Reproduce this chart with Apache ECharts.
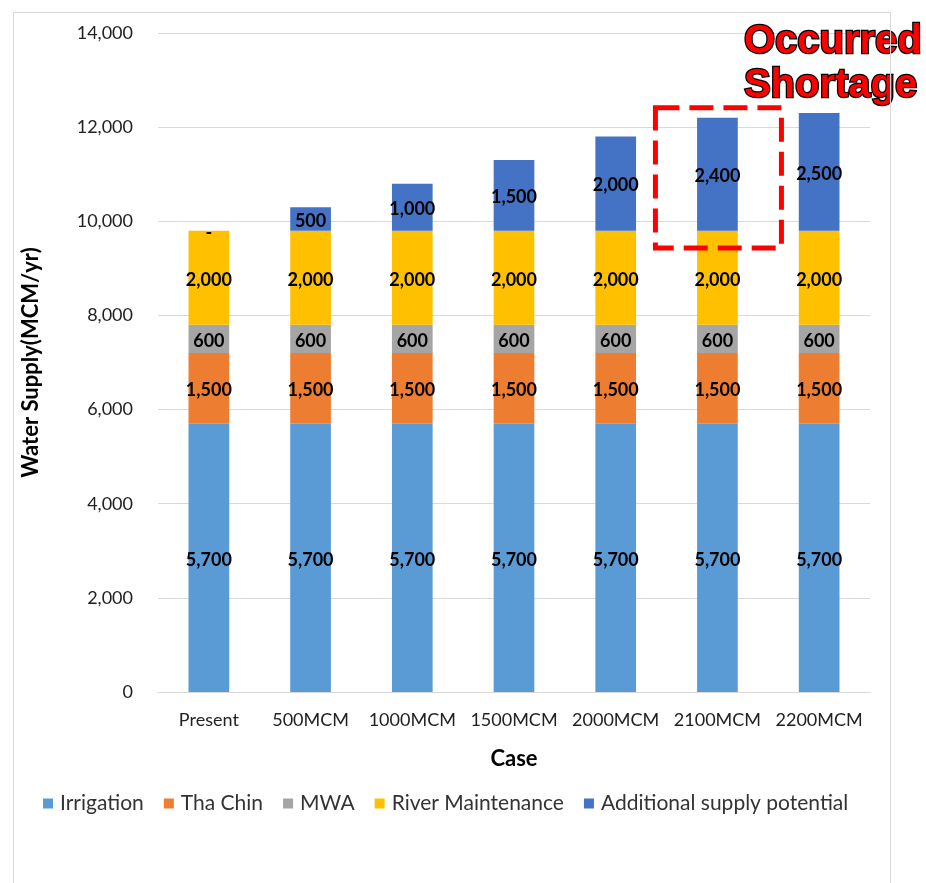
<!DOCTYPE html>
<html>
<head>
<meta charset="utf-8">
<style>
  html, body { margin: 0; padding: 0; background: #fff; }
  #chart { width: 926px; height: 883px; }
  #frame { position: absolute; left: 13px; top: 12px; width: 876px; height: 900px; border: 1.5px solid #d9d9d9; pointer-events: none; }
</style>
<script src="https://cdn.jsdelivr.net/npm/echarts@6/dist/echarts.min.js"></script>
</head>
<body>
<div id="chart"></div>
<div id="frame"></div>
<script>
// Scenario cases on the x axis
const cases = ['Present', '500MCM', '1000MCM', '1500MCM', '2000MCM', '2100MCM', '2200MCM'];

// Water supply by use (MCM/yr), stacked per case
const irrigation = [5700, 5700, 5700, 5700, 5700, 5700, 5700];
const thaChin = [1500, 1500, 1500, 1500, 1500, 1500, 1500];
const mwa = [600, 600, 600, 600, 600, 600, 600];
const riverMaintenance = [2000, 2000, 2000, 2000, 2000, 2000, 2000];
const additional = [0, 500, 1000, 1500, 2000, 2400, 2500];

const seriesNames = ['Irrigation', 'Tha Chin', 'MWA', 'River Maintenance', 'Additional supply potential'];
const seriesData = [irrigation, thaChin, mwa, riverMaintenance, additional];
const seriesColors = ['#5B9BD5', '#ED7D31', '#A5A5A5', '#FFC000', '#4472C4'];

// Highlighted case and the value span of the dashed box around it
const shortageCase = '2100MCM';
const shortageSpan = [9430, 12410];

const FONT = 'Lato';

const chart = echarts.init(document.getElementById('chart'));

function fmt(v) {
  return v === 0 ? '-' : v.toLocaleString('en-US');
}

const option = {
  animation: false,
  backgroundColor: '#fff',
  grid: { left: 158, right: 56, top: 33, bottom: 191, containLabel: false },
  legend: {
    data: seriesNames,
    left: 38,
    top: 788,
    icon: 'rect',
    itemWidth: 10,
    itemHeight: 10,
    itemGap: 20,
    textStyle: { fontFamily: FONT, fontSize: 21, color: '#333', padding: [0, 0, 0, 2] }
  },
  xAxis: {
    type: 'category',
    data: cases,
    name: 'Case',
    nameLocation: 'middle',
    nameGap: 56,
    nameTextStyle: { fontFamily: FONT, fontSize: 22, fontWeight: 'bold', color: '#000' },
    axisLine: { lineStyle: { color: '#d9d9d9', width: 1 } },
    axisTick: { show: false },
    axisLabel: { interval: 0, fontFamily: FONT, fontSize: 18, color: '#222', margin: 19 }
  },
  yAxis: {
    type: 'value',
    min: 0,
    max: 14000,
    interval: 2000,
    name: 'Water Supply(MCM/yr)',
    nameLocation: 'middle',
    nameGap: 116,
    nameTextStyle: { fontFamily: FONT, fontSize: 22, fontWeight: 'bold', color: '#000' },
    axisLine: { show: false },
    axisTick: { show: false },
    axisLabel: {
      fontFamily: FONT, fontSize: 18, color: '#222', margin: 25,
      formatter: v => v.toLocaleString('en-US')
    },
    splitLine: { lineStyle: { color: '#d9d9d9', width: 1 } }
  },
  series: seriesNames.map((name, i) => ({
    name: name,
    type: 'bar',
    stack: 'supply',
    barWidth: '40%',
    data: seriesData[i],
    itemStyle: { color: seriesColors[i] },
    label: {
      show: true,
      position: 'inside',
      offset: [0, 2],
      formatter: p => fmt(p.value),
      fontFamily: FONT,
      fontSize: 18,
      fontWeight: 'bold',
      color: '#000'
    }
  }))
};

chart.setOption(option);

// Dashed box around the shortage case plus its caption
const boxTop = chart.convertToPixel({ gridIndex: 0 }, [shortageCase, shortageSpan[1]]);
const boxBottom = chart.convertToPixel({ gridIndex: 0 }, [shortageCase, shortageSpan[0]]);
const halfW = 63;

chart.setOption({
  graphic: [
    {
      type: 'rect',
      shape: { x: boxTop[0] - halfW + 1, y: boxTop[1], width: halfW * 2, height: boxBottom[1] - boxTop[1] },
      style: { fill: 'none', stroke: '#FF0000', lineWidth: 5, lineDash: [24, 10] },
      z: 100
    },
    {
      type: 'text',
      right: 3,
      top: 20,
      style: {
        text: 'Occurred\nShortage',
        fontFamily: 'Liberation Sans',
        fontSize: 40,
        fontWeight: 'bold',
        lineHeight: 44,
        align: 'right',
        fill: '#FF0000',
        stroke: '#000',
        lineWidth: 2.5
      },
      z: 100
    }
  ]
});
</script>
</body>
</html>
